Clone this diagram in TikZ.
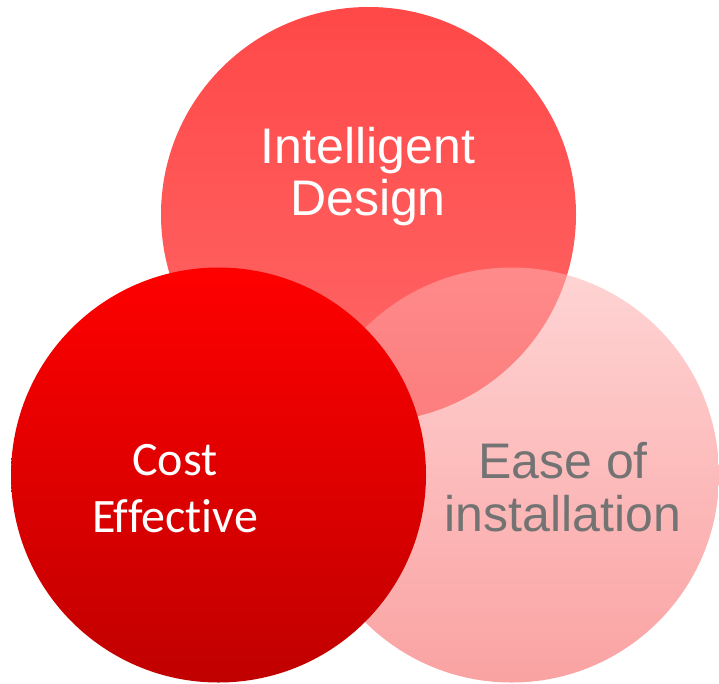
\documentclass[tikz,border=0pt]{standalone}
\usepackage{fontspec}
\setmainfont{Liberation Sans}
\newfontfamily\calibfont[Ligatures={NoCommon,NoContextual}]{Carlito}
\definecolor{topT}{RGB}{255,72,72}
\definecolor{topB}{RGB}{255,104,104}
\definecolor{pinkT}{RGB}{255,177,177}
\definecolor{pinkB}{RGB}{246,86,86}
\definecolor{redT}{RGB}{255,0,0}
\definecolor{redB}{RGB}{192,0,0}
\definecolor{txtgray}{RGB}{115,115,115}
\begin{document}
\begin{tikzpicture}[x=1pt,y=-1pt,
  bubble/.style={circle, draw=none, inner sep=0pt, minimum size=415pt},
  lblA/.style={anchor=base, inner sep=0pt, font=\fontsize{50}{52}\selectfont},
  lblC/.style={anchor=base, inner sep=0pt, font=\calibfont\fontsize{48}{56}\selectfont, text=white}]
\useasboundingbox (0,0) rectangle (719,683);
\node[bubble, top color=topT, bottom color=topB] (design) at (368.5,214.5) {};
\node[bubble, top color=pinkT, bottom color=pinkB, fill opacity=0.55] (ease) at (511.5,475) {};
\node[bubble, top color=redT, bottom color=redB] (cost) at (218.5,475) {};
\node[lblA, text=white] (d1) at (368,163) {Intelligent};
\node[lblA, text=white] (d2) at (368,215) {Design};
\node[lblA, text=txtgray] (e1) at (563,478) {Ease of};
\node[lblA, text=txtgray] (e2) at (563,531) {installation};
\node[lblC] (c1) at (175,475) {Cost};
\node[lblC] (c2) at (175,532) {Effective};
\end{tikzpicture}
\end{document}
